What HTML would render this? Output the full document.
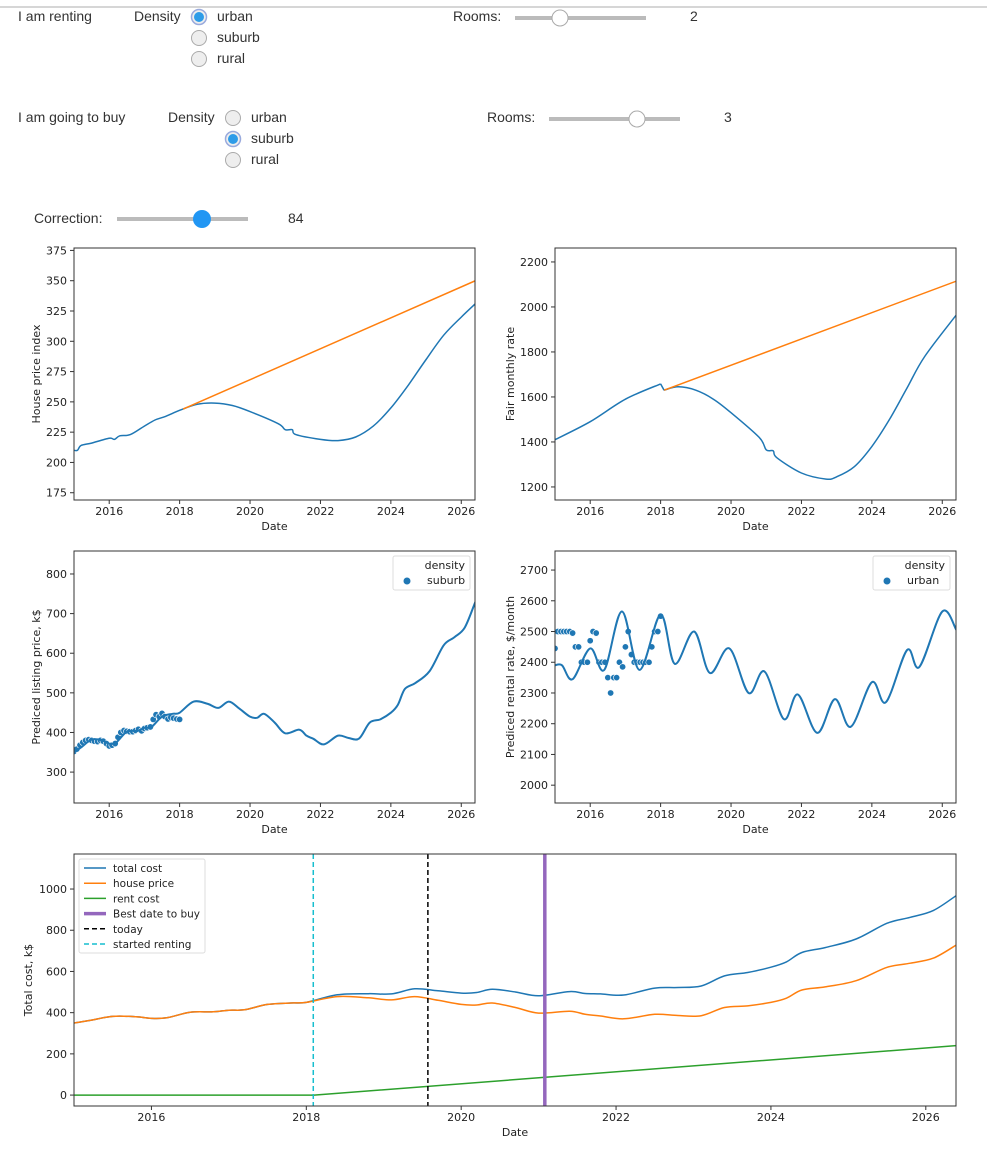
<!DOCTYPE html>
<html><head><meta charset="utf-8">
<style>
html,body{margin:0;padding:0;background:#fff;width:987px;height:1158px;overflow:hidden}
svg{display:block}
.ui{font-family:"Liberation Sans","DejaVu Sans",sans-serif;font-size:14px;fill:#333}
.tk{font-family:"DejaVu Sans","Liberation Sans",sans-serif;font-size:11px;fill:#222}
.lg{font-family:"DejaVu Sans","Liberation Sans",sans-serif;font-size:10.5px;fill:#222}
</style></head>
<body>
<svg id="s" width="987" height="1158" xmlns="http://www.w3.org/2000/svg">
<line x1="0" y1="7" x2="987" y2="7" stroke="#c8c8c8" stroke-width="1.5"/>
<g>
<text class="ui" x="18" y="21">I am renting</text>
<text class="ui" x="134" y="21">Density</text>
<g><circle cx="199" cy="17" r="7.5" fill="#eee" stroke="#9ad" stroke-width="1.5"/><circle cx="199" cy="17" r="5" fill="#2e9ce8"/><text class="ui" x="217" y="21">urban</text></g>
<g><circle cx="199" cy="38" r="7.5" fill="#eee" stroke="#aaa" stroke-width="1"/><text class="ui" x="217" y="42">suburb</text></g>
<g><circle cx="199" cy="59" r="7.5" fill="#eee" stroke="#aaa" stroke-width="1"/><text class="ui" x="217" y="63">rural</text></g>
<text class="ui" x="453" y="21">Rooms:</text>
<g><line x1="515" y1="18" x2="646" y2="18" stroke="#bbb" stroke-width="4"/><circle cx="560" cy="18" r="8" fill="#fff" stroke="#aaa"/></g>
<text class="ui" x="690" y="21">2</text>
</g>
<g>
<text class="ui" x="18" y="122">I am going to buy</text>
<text class="ui" x="168" y="122">Density</text>
<g><circle cx="233" cy="118" r="7.5" fill="#eee" stroke="#aaa"/><text class="ui" x="251" y="122">urban</text></g>
<g><circle cx="233" cy="139" r="7.5" fill="#eee" stroke="#9ad" stroke-width="1.5"/><circle cx="233" cy="139" r="5" fill="#2e9ce8"/><text class="ui" x="251" y="143">suburb</text></g>
<g><circle cx="233" cy="160" r="7.5" fill="#eee" stroke="#aaa"/><text class="ui" x="251" y="164">rural</text></g>
<text class="ui" x="487" y="122">Rooms:</text>
<g><line x1="549" y1="119" x2="680" y2="119" stroke="#bbb" stroke-width="4"/><circle cx="637" cy="119" r="8" fill="#fff" stroke="#aaa"/></g>
<text class="ui" x="724" y="122">3</text>
</g>
<text class="ui" x="34" y="223">Correction:</text>
<g><line x1="117" y1="219" x2="248" y2="219" stroke="#bbb" stroke-width="4"/><circle cx="202" cy="219" r="9" fill="#2196f3"/></g>
<text class="ui" x="288" y="223">84</text>
</svg>
<script>
// ---- data ----
const hpiYears=[2015,2015.1,2015.2,2015.5,2016,2016.15,2016.3,2016.6,2017,2017.3,2017.6,2018,2018.5,2019,2019.5,2020,2020.8,2021,2021.2,2021.3,2022,2022.5,2023,2023.5,2024,2024.5,2025,2025.5,2026,2026.4];
const hpiValues=[210,210,214,216,220,219,222,223,230,235,238,243,248,249,247,242,232,227,227,223,219,218,221,230,245,264,285,305,320,331];
const hpiTrendYears=[2018.1,2026.4];
const hpiTrendValues=[244,350];
const ratePreYears=[2015,2016,2017,2018];
const ratePreValues=[1410,1490,1590,1658];
const rateYears=[2018.1,2018.5,2019,2019.5,2020,2020.8,2021,2021.2,2021.3,2022,2022.7,2023,2023.5,2024,2024.5,2025,2025.5,2026.4];
const rateValues=[1630,1645,1630,1590,1530,1420,1365,1360,1330,1262,1235,1245,1290,1380,1500,1640,1780,1965];
const rateTrendYears=[2018.1,2026.4];
const rateTrendValues=[1630,2115];
const priceYears=[2015,2015.2,2015.5,2015.8,2016,2016.2,2016.5,2016.8,2017,2017.2,2017.5,2017.8,2018,2018.4,2018.8,2019.1,2019.4,2019.7,2020,2020.2,2020.4,2020.7,2021,2021.4,2021.6,2021.8,2022.1,2022.5,2022.8,2023.1,2023.4,2023.7,2024,2024.2,2024.4,2024.7,2025.1,2025.5,2025.8,2026.1,2026.4];
const priceValues=[350,362,382,380,372,375,402,404,412,414,440,447,450,478,472,462,478,460,440,437,447,425,398,407,392,384,370,392,386,385,425,433,450,470,510,525,555,620,640,665,730];
const priceObsYears=[2015,2015.08,2015.17,2015.25,2015.33,2015.42,2015.5,2015.58,2015.67,2015.75,2015.83,2015.92,2016,2016.08,2016.17,2016.25,2016.33,2016.42,2016.5,2016.58,2016.67,2016.75,2016.83,2016.92,2017,2017.08,2017.17,2017.25,2017.33,2017.42,2017.5,2017.58,2017.67,2017.75,2017.83,2017.92,2018];
const priceObsValues=[352,358,368,375,380,382,380,378,377,380,378,372,366,368,372,388,400,405,403,402,402,405,408,404,410,412,414,433,445,440,448,440,434,438,436,434,433];
const rentYears=[2015,2015.2,2015.5,2016,2016.4,2016.9,2017.4,2018,2018.4,2018.95,2019.4,2019.95,2020.5,2020.95,2021.5,2021.9,2022.45,2022.95,2023.4,2024,2024.4,2025,2025.35,2026,2026.4];
const rentValues=[2390,2390,2345,2445,2375,2565,2375,2555,2395,2500,2365,2445,2300,2370,2215,2295,2170,2280,2190,2335,2270,2440,2385,2565,2505];
const rentObsYears=[2015,2015.08,2015.17,2015.25,2015.33,2015.42,2015.5,2015.58,2015.67,2015.75,2015.83,2015.92,2016,2016.08,2016.17,2016.25,2016.33,2016.42,2016.5,2016.58,2016.67,2016.75,2016.83,2016.92,2017,2017.08,2017.17,2017.25,2017.33,2017.42,2017.5,2017.58,2017.67,2017.75,2017.83,2017.92,2018];
const rentObsValues=[2445,2500,2500,2500,2500,2500,2495,2450,2450,2400,2400,2400,2470,2500,2495,2400,2400,2400,2350,2300,2350,2350,2400,2385,2450,2500,2425,2400,2400,2400,2400,2400,2400,2450,2500,2500,2550];
const rentCostYears=[2015,2018.1,2026.4];
const rentCostValues=[0,0,240];
const startedRenting=2018.09, today=2019.57, bestDate=2021.08;
const yearTicks=[2016,2018,2020,2022,2024,2026];
const hpiTicks=[175,200,225,250,275,300,325,350,375];
const rateTicks=[1200,1400,1600,1800,2000,2200];
const priceTicks=[300,400,500,600,700,800];
const rentTicks=[2000,2100,2200,2300,2400,2500,2600,2700];
const costTicks=[0,200,400,600,800,1000];

const NS='http://www.w3.org/2000/svg';
const svg=document.getElementById('s');
function mk(tag,attrs,parent){const e=document.createElementNS(NS,tag);for(const k in attrs)e.setAttribute(k,attrs[k]);(parent||svg).appendChild(e);return e;}
function interp(xs,ys,x){if(x<=xs[0])return ys[0];for(let i=1;i<xs.length;i++){if(x<=xs[i]){const t=(x-xs[i-1])/(xs[i]-xs[i-1]);return ys[i-1]+t*(ys[i]-ys[i-1]);}}return ys[ys.length-1];}
function smoothPath(pts){let d='M'+pts[0][0].toFixed(1)+','+pts[0][1].toFixed(1);for(let i=0;i<pts.length-1;i++){const p0=pts[i-1]||pts[i],p1=pts[i],p2=pts[i+1],p3=pts[i+2]||p2;const c1=[p1[0]+(p2[0]-p0[0])/6,p1[1]+(p2[1]-p0[1])/6],c2=[p2[0]-(p3[0]-p1[0])/6,p2[1]-(p3[1]-p1[1])/6];d+='C'+c1[0].toFixed(1)+','+c1[1].toFixed(1)+' '+c2[0].toFixed(1)+','+c2[1].toFixed(1)+' '+p2[0].toFixed(1)+','+p2[1].toFixed(1);}return d;}

function chart(c){
  const g=mk('g',{});
  
  
  const sx=v=>c.x0+(v-c.xd[0])/(c.xd[1]-c.xd[0])*(c.x1-c.x0);
  const sy=v=>c.y1-(v-c.yd[0])/(c.yd[1]-c.yd[0])*(c.y1-c.y0);
  const clipId='clip-'+c.name;
  const cp=mk('clipPath',{id:clipId},g);mk('rect',{x:c.x0,y:c.y0,width:c.x1-c.x0,height:c.y1-c.y0},cp);
  const plot=mk('g',{'clip-path':'url(#'+clipId+')'},g);
  c.draw(plot,sx,sy);
  const frame=mk('rect',{x:c.x0,y:c.y0,width:c.x1-c.x0,height:c.y1-c.y0,fill:'none',stroke:'#333','stroke-width':1},g);
  
  
  yearTicks.forEach(t=>{const x=sx(t);mk('line',{x1:x,y1:c.y1,x2:x,y2:c.y1+4,stroke:'#333'},g);
    const tx=mk('text',{class:'tk',x:x,y:c.y1+15,'text-anchor':'middle'},g);tx.textContent=t;
    
    });
  c.yt.forEach(t=>{const y=sy(t);mk('line',{x1:c.x0-4,y1:y,x2:c.x0,y2:y,stroke:'#333'},g);
    const tx=mk('text',{class:'tk',x:c.x0-7,y:y+4,'text-anchor':'end'},g);tx.textContent=t;
    
    });
  const xl=mk('text',{class:'tk',x:(c.x0+c.x1)/2,y:c.y1+30,'text-anchor':'middle'},g);xl.textContent='Date';
  
  
  const yl=mk('text',{class:'tk',transform:'translate('+c.ylx+','+((c.y0+c.y1)/2)+') rotate(-90)','text-anchor':'middle'},g);yl.textContent=c.ylabel;
  
  
  return {g,sx,sy};
}
function line(p,xs,ys,sx,sy,color,w,smooth,name){
  const pts=xs.map((x,i)=>[sx(x),sy(ys[i])]);
  const d=smooth?smoothPath(pts):'M'+pts.map(q=>q[0].toFixed(1)+','+q[1].toFixed(1)).join('L');
  const e=mk('path',{d:d,fill:'none',stroke:color,'stroke-width':w||1.5,'stroke-linejoin':'round'},p);
  
  
  return e;
}
function dots(p,xs,ys,sx,sy,name){xs.forEach((x,i)=>{const e=mk('circle',{cx:sx(x),cy:sy(ys[i]),r:3.2,fill:'#1f77b4',stroke:'#fff','stroke-width':0.6},p);
  
  });}
function scatterLegend(g,x,y,label){
  const b=mk('g',{},g);
  
  
  mk('rect',{x:x,y:y,width:77,height:34,rx:2,fill:'#fff',stroke:'#ddd'},b);
  const t1=mk('text',{class:'tk',x:x+72,y:y+13,'text-anchor':'end'},b);t1.textContent='density';
  mk('circle',{cx:x+14,cy:y+25,r:3.5,fill:'#1f77b4'},b);
  const t2=mk('text',{class:'tk',x:x+34,y:y+28},b);t2.textContent=label;
}
const XD=[2015,2026.39];
const BLUE='#1f77b4',ORANGE='#ff7f0e',GREEN='#2ca02c';

chart({name:'house-price-index-chart',x0:74,x1:475,y0:248,y1:500,xd:XD,yd:[169,377],yt:hpiTicks,ylx:40,ylabel:'House price index',
  draw:(p,sx,sy)=>{line(p,hpiYears,hpiValues,sx,sy,BLUE,1.5,true,'hpi-line');line(p,hpiTrendYears,hpiTrendValues,sx,sy,ORANGE,1.5,false,'hpi-trend-line');}});
chart({name:'fair-monthly-rate-chart',x0:555,x1:956,y0:248,y1:500,xd:XD,yd:[1142,2262],yt:rateTicks,ylx:514,ylabel:'Fair monthly rate',
  draw:(p,sx,sy)=>{line(p,ratePreYears,ratePreValues,sx,sy,BLUE,1.5,true,'rate-history-line');
    line(p,[ratePreYears[ratePreYears.length-1],rateYears[0]],[ratePreValues[ratePreValues.length-1],rateValues[0]],sx,sy,BLUE,1.5,false,'rate-joint');
    line(p,rateYears,rateValues,sx,sy,BLUE,1.5,true,'rate-line');
    line(p,rateTrendYears,rateTrendValues,sx,sy,ORANGE,1.5,false,'rate-trend-line');}});
const c3=chart({name:'listing-price-chart',x0:74,x1:475,y0:551,y1:803,xd:XD,yd:[222,858],yt:priceTicks,ylx:40,ylabel:'Prediced listing price, k$',
  draw:(p,sx,sy)=>{dots(p,priceObsYears,priceObsValues,sx,sy,'price-observed-point');line(p,priceYears,priceValues,sx,sy,BLUE,2,true,'price-predicted-line');}});
scatterLegend(c3.g,393,556,'suburb');
const c4=chart({name:'rental-rate-chart',x0:555,x1:956,y0:551,y1:803,xd:XD,yd:[1942,2762],yt:rentTicks,ylx:514,ylabel:'Prediced rental rate, $/month',
  draw:(p,sx,sy)=>{dots(p,rentObsYears,rentObsValues,sx,sy,'rent-observed-point');line(p,rentYears,rentValues,sx,sy,BLUE,2,true,'rent-predicted-line');}});
scatterLegend(c4.g,873,556,'urban');

const c5=chart({name:'total-cost-chart',x0:74,x1:956,y0:854,y1:1106,xd:XD,yd:[-53,1170],yt:costTicks,ylx:32,ylabel:'Total cost, k$',
  draw:(p,sx,sy)=>{
    const totalValues=priceYears.map((y,i)=>priceValues[i]+interp(rentCostYears,rentCostValues,y));
    line(p,priceYears,totalValues,sx,sy,BLUE,1.5,true,'total-cost-line');
    line(p,priceYears,priceValues,sx,sy,ORANGE,1.5,true,'house-price-line');
    line(p,rentCostYears,rentCostValues,sx,sy,GREEN,1.5,false,'rent-cost-line');
    const v=(yr,col,w,dash,name)=>{const e=mk('line',{x1:sx(yr),x2:sx(yr),y1:854,y2:1106,stroke:col,'stroke-width':w,'stroke-dasharray':dash},p);
      
      };
    v(startedRenting,'#17becf',1.5,'5,3','started-renting-line');
    v(today,'#000',1.5,'5,3','today-line');
    v(bestDate,'#9467bd',3.5,'none','best-date-line');
  }});
const lg=mk('g',{},c5.g);


mk('rect',{x:79,y:859,width:126,height:94,rx:2,fill:'#fff',stroke:'#ddd'},lg);
[['total cost',BLUE,1.5,'none'],['house price',ORANGE,1.5,'none'],['rent cost',GREEN,1.5,'none'],['Best date to buy','#9467bd',3.5,'none'],['today','#000',1.5,'5,3'],['started renting','#17becf',1.5,'5,3']].forEach((e,i)=>{
  const y=868+i*15.2;
  mk('line',{x1:84,x2:106,y1:y,y2:y,stroke:e[1],'stroke-width':e[2],'stroke-dasharray':e[3]},lg);
  const t=mk('text',{class:'lg',x:113,y:y+4},lg);t.textContent=e[0];
  
  
});
</script>
</body></html>
